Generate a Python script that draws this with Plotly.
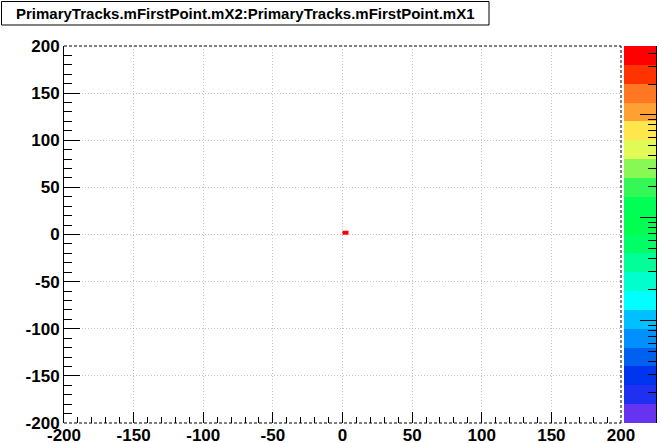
import numpy as np
import plotly.graph_objects as go

# ---- data ----
title_text = "PrimaryTracks.mFirstPoint.mX2:PrimaryTracks.mFirstPoint.mX1"
x_range = [-200, 200]
y_range = [-200, 200]
axis_tick_values = [-200, -150, -100, -50, 0, 50, 100, 150, 200]
axis_tick_labels = ["-200", "-150", "-100", "-50", "0", "50", "100", "150", "200"]
hit_x_edges = [0, 4]          # x bin edges of the only filled cell
hit_y_edges = [0, 4]          # y bin edges of the only filled cell
hit_counts = [[4200]]          # entries in that cell
z_log_max = 3.672              # log10 of colour-scale top (~4700)
palette = [  # bottom -> top, 20 contour colours
    "#6633F0", "#2030F0", "#0035F0", "#0060F0", "#0090FF",
    "#00C0FF", "#00FFFF", "#00FFCC", "#00FF99", "#00FF66",
    "#00FF50", "#00FF55", "#33F855", "#88F855", "#E2FA55",
    "#FFE64D", "#FFA033", "#FF7722", "#FF3300", "#FF0000",
]

n = len(palette)
colorscale = []
for j, c in enumerate(palette):
    colorscale.append([j / n, c])
    colorscale.append([(j + 1) / n, c])

# colour bar bands (log scale)
band_edges = [10 ** (z_log_max * j / n) for j in range(n + 1)]
band_z = [[z_log_max * (j + 0.5) / n] for j in range(n)]

W, H = 660, 443
L, R, T, B = 64, 4, 46, 20
pw = W - L - R
ph = H - T - B

fig = go.Figure()
fig.add_trace(go.Heatmap(
    x=hit_x_edges, y=hit_y_edges, z=np.log10(np.array(hit_counts, float)),
    colorscale=colorscale, zmin=0, zmax=z_log_max, showscale=False,
    xaxis="x", yaxis="y", hoverinfo="skip"))
fig.add_trace(go.Heatmap(
    x=[0, 1], y=band_edges, z=band_z,
    colorscale=colorscale, zmin=0, zmax=z_log_max, showscale=False,
    xaxis="x2", yaxis="y2", hoverinfo="skip"))

tickfont = dict(family="Liberation Sans", size=17, color="black", weight="bold")
grid = dict(showgrid=True, gridcolor="#C4C4C4", griddash="1px,2px", gridwidth=1)

minor_cb = []
for d in [1, 10, 100, 1000]:
    for k in range(2, 10):
        if np.log10(k * d) < z_log_max:
            minor_cb.append(k * d)

fig.update_layout(
    width=W, height=H,
    margin=dict(l=L, r=R, t=T, b=B),
    paper_bgcolor="white", plot_bgcolor="white",
    showlegend=False,
    xaxis=dict(domain=[0, 557 / pw], range=x_range,
               tickmode="array", tickvals=axis_tick_values, ticktext=axis_tick_labels,
               ticks="inside", ticklen=11, tickcolor="black", tickwidth=1,
               minor=dict(dtick=10, ticks="inside", ticklen=6, tickcolor="black", showgrid=False),
               showline=False, zeroline=False, tickfont=tickfont, automargin=False,
               anchor="y", **grid),
    yaxis=dict(domain=[0, 1], range=y_range,
               tickmode="array", tickvals=axis_tick_values, ticktext=axis_tick_labels,
               ticks="inside", ticklen=16, tickcolor="black", tickwidth=1,
               minor=dict(dtick=10, ticks="inside", ticklen=8, tickcolor="black", showgrid=False),
               showline=True, linecolor="black", linewidth=1, zeroline=False,
               tickfont=tickfont, automargin=False, anchor="x", **grid),
    xaxis2=dict(domain=[(624 - L) / pw, 1], range=[0, 1], visible=False, anchor="y2"),
    yaxis2=dict(domain=[0, 1], type="log", range=[0, z_log_max], anchor="x2", side="right",
                tickvals=[1, 10, 100, 1000], ticks="inside", ticklen=16, tickcolor="black",
                showticklabels=False, showgrid=False, zeroline=False,
                minor=dict(tickvals=minor_cb, ticks="inside", ticklen=8, tickcolor="black", showgrid=False),
                showline=True, linecolor="black", linewidth=1, automargin=False),
)

frame_dash = "3px,2px"
for (x0, y0, x1, y1) in [(0, 1, 1, 1), (1, 0, 1, 1), (0, 0, 1, 0)]:
    fig.add_shape(type="line", xref="x domain", yref="y domain",
                  x0=x0, y0=y0, x1=x1, y1=y1, layer="above",
                  line=dict(color="black", width=1, dash=frame_dash))

# title box
fig.add_shape(type="rect", xref="paper", yref="paper",
              x0=(1.5 - L) / pw, x1=(489 - L) / pw,
              y0=(H - B - 25) / ph, y1=(H - B - 1.5) / ph,
              line=dict(color="black", width=1), fillcolor="white", layer="above")
fig.add_annotation(text=title_text, xref="paper", yref="paper",
                   x=(245 - L) / pw, y=(H - B - 13) / ph, showarrow=False,
                   xanchor="center", yanchor="middle",
                   font=dict(family="Liberation Sans", size=15, color="black", weight="bold"))

fig.write_html("out.html",
               config={"displayModeBar": False, "staticPlot": True},
               post_script="document.body.style.margin='0';document.body.style.overflow='hidden';")
